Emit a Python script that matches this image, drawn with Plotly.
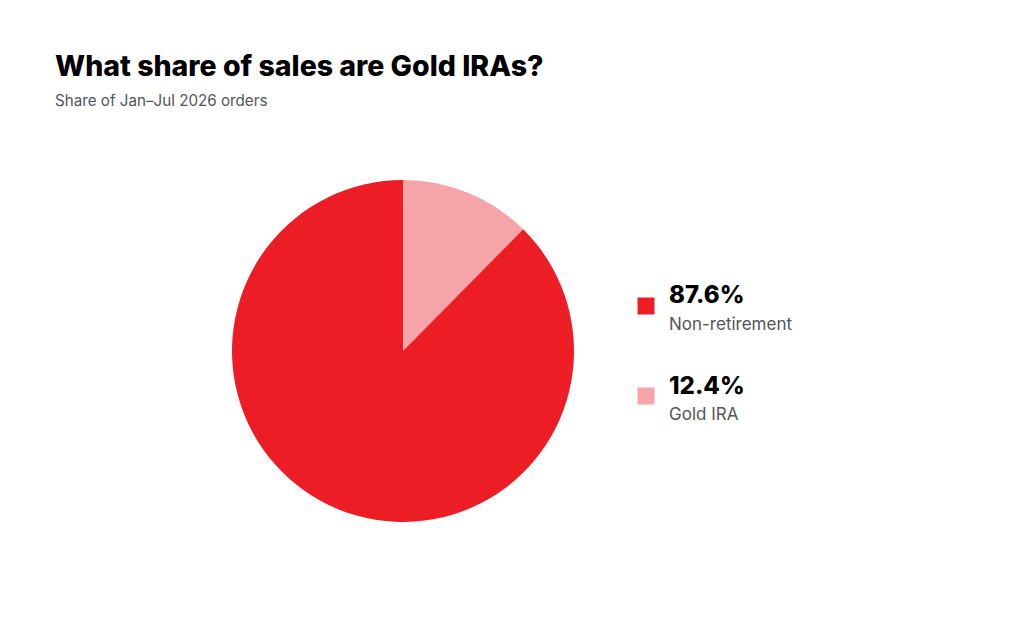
import plotly.graph_objects as go

# Datos
categorias = ["Gold IRA", "Non-retirement"]
valores = [12.4, 87.6]
colores = ["#F5A5A7", "#ED1D25"]

titulo = "What share of sales are Gold IRAs?"
subtitulo = "Share of Jan\u2013Jul 2026 orders"

W, H = 1024, 637
FUENTE = "Inter"
OFF = 8  # margen del body del navegador


def px_x(x):
    return (x - OFF) / W


def px_y(y):
    return 1 - (y - OFF) / H


fig = go.Figure()

# Pie principal
fig.add_trace(go.Pie(
    labels=categorias,
    values=valores,
    sort=False,
    direction="clockwise",
    rotation=0,
    marker=dict(colors=colores, line=dict(width=0)),
    textinfo="none",
    hoverinfo="label+percent",
    showlegend=False,
    domain=dict(x=[px_x(232), px_x(574)], y=[px_y(522), px_y(180)]),
))

# Leyenda manual: cuadros + textos (orden: Non-retirement arriba)
orden = [1, 0]
fila_y = [306, 396]
fig.add_trace(go.Scatter(
    x=[px_x(646)] * len(orden),
    y=[px_y(v) for v in fila_y],
    mode="markers",
    marker=dict(symbol="square", size=17, color=[colores[i] for i in orden]),
    hoverinfo="skip",
    showlegend=False,
))

anotaciones = [
    dict(text=titulo, x=px_x(53), y=px_y(65), xanchor="left", yanchor="middle",
         font=dict(family=FUENTE, size=28.5, color="#000000", weight=800)),
    dict(text=subtitulo, x=px_x(53), y=px_y(101), xanchor="left", yanchor="middle",
         font=dict(family=FUENTE, size=15.2, color="#555555")),
]
total = sum(valores)
for k, i in enumerate(orden):
    pct = valores[i] / total * 100
    anotaciones.append(dict(text="%.1f%%" % pct, x=px_x(667), y=px_y(fila_y[k] - 11),
                            xanchor="left", yanchor="middle",
                            font=dict(family=FUENTE, size=24, color="#000000", weight=800)))
    anotaciones.append(dict(text=categorias[i], x=px_x(667), y=px_y(fila_y[k] + 18),
                            xanchor="left", yanchor="middle",
                            font=dict(family=FUENTE, size=17, color="#555555")))

for a in anotaciones:
    a.update(xref="paper", yref="paper", showarrow=False)

fig.update_layout(
    width=W, height=H,
    margin=dict(l=0, r=0, t=0, b=0),
    paper_bgcolor="white",
    plot_bgcolor="white",
    xaxis=dict(range=[0, 1], visible=False, fixedrange=True),
    yaxis=dict(range=[0, 1], visible=False, fixedrange=True),
    annotations=anotaciones,
)

fig.write_html("out.html")
